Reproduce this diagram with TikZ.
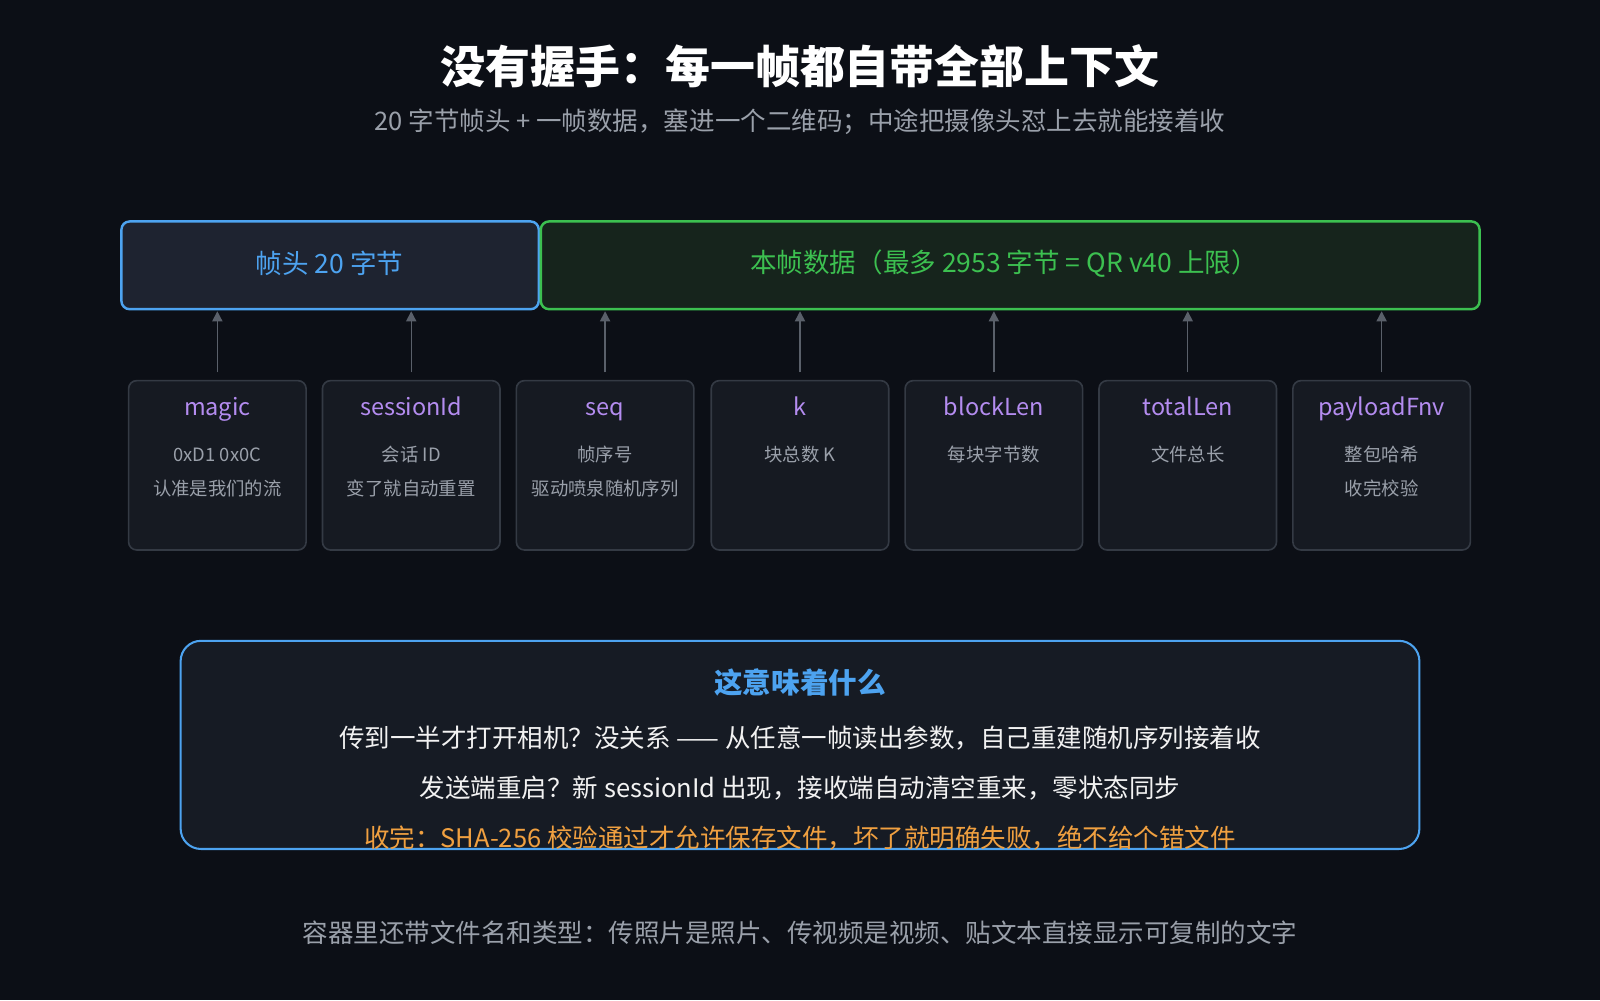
\documentclass[tikz,border=0pt]{standalone}
\usepackage{fontspec}
\setmainfont{Noto Sans CJK SC}
\usetikzlibrary{arrows.meta}
\definecolor{bg}{HTML}{0C0F16}
\definecolor{blu}{HTML}{4DA3F0}
\definecolor{grn}{HTML}{3CC050}
\definecolor{pur}{HTML}{B48CF0}
\definecolor{gry}{HTML}{9AA0AA}
\definecolor{org}{HTML}{F0A040}
\definecolor{arr}{HTML}{5A606A}
\definecolor{fbd}{HTML}{343A44}
\definecolor{ffl}{HTML}{161A22}
\begin{document}
\begin{tikzpicture}[x=0.5pt,y=-0.5pt,
  fld/.style={draw=fbd,rounded corners=4pt,fill=ffl,line width=0.8pt},
  ttl/.style={text=pur,font=\fontsize{11.5}{13}\selectfont,text height=9pt,text depth=2.5pt},
  sub/.style={text=gry,font=\fontsize{9}{10}\selectfont,text height=7pt,text depth=2pt},
  ar/.style={draw=arr,line width=0.7pt,-{Triangle[length=5pt,width=5pt]}}]
\fill[bg] (0,0) rectangle (1568,980);
\useasboundingbox (0,0) rectangle (1568,980);
\node[text=white,font=\bfseries\fontsize{22}{26}\selectfont] (title) at (784,65) {没有握手：每一帧都自带全部上下文};
\node[text=gry,font=\fontsize{12.5}{14}\selectfont] (subt) at (784,119) {20 字节帧头 + 一帧数据，塞进一个二维码；中途把摄像头怼上去就能接着收};
\draw[draw=blu,fill={rgb,255:red,30;green,35;blue,48},rounded corners=4pt,line width=1.2pt] (119,217) rectangle (528,303);
\node[text=blu,font=\fontsize{13}{15}\selectfont] (hdr) at (323,258) {帧头 20 字节};
\draw[draw=grn,fill={rgb,255:red,22;green,36;blue,28},rounded corners=4pt,line width=1.2pt] (530,217) rectangle (1450,303);
\node[text=grn,font=\fontsize{13}{15}\selectfont] (dat) at (984,258) {本帧数据（最多 2953 字节 = QR v40 上限）};
\foreach \i/\x/\t/\a/\b in {1/213/magic/0xD1 0x0C/认准是我们的流,2/403/sessionId/会话 ID/变了就自动重置,3/593/seq/帧序号/驱动喷泉随机序列,4/784/k/块总数 K/,5/974/blockLen/每块字节数/,6/1164/totalLen/文件总长/,7/1354/payloadFnv/整包哈希/收完校验}{
  \draw[fld] (\x-87,373) rectangle (\x+87,539);
  \node[ttl] (f\i) at (\x,401) {\t};
  \node[sub] (fa\i) at (\x,447) {\a};
  \node[sub] (fb\i) at (\x,481) {\b};
  \coordinate (s\i) at (\x,365);
  \coordinate (e\i) at (\x,305);
  \draw[ar] (s\i) -- (e\i);
}
\draw[draw=blu,fill={rgb,255:red,22;green,27;blue,36},rounded corners=10pt,line width=1pt] (177,628) rectangle (1391,832);
\node[text=blu,font=\bfseries\fontsize{14}{16}\selectfont] (mean) at (784,669) {这意味着什么};
\node[text=white!90!gray,font=\fontsize{12.5}{14}\selectfont] (l1) at (784,723) {传到一半才打开相机？没关系 —— 从任意一帧读出参数，自己重建随机序列接着收};
\node[text=white!90!gray,font=\fontsize{12.5}{14}\selectfont] (l2) at (784,772) {发送端重启？新 sessionId 出现，接收端自动清空重来，零状态同步};
\node[text=org,font=\fontsize{12.5}{14}\selectfont] (l3) at (784,821) {收完：SHA-256 校验通过才允许保存文件，坏了就明确失败，绝不给个错文件};
\node[text=gry,font=\fontsize{12.5}{14}\selectfont] (foot) at (784,914) {容器里还带文件名和类型：传照片是照片、传视频是视频、贴文本直接显示可复制的文字};
\end{tikzpicture}
\end{document}
